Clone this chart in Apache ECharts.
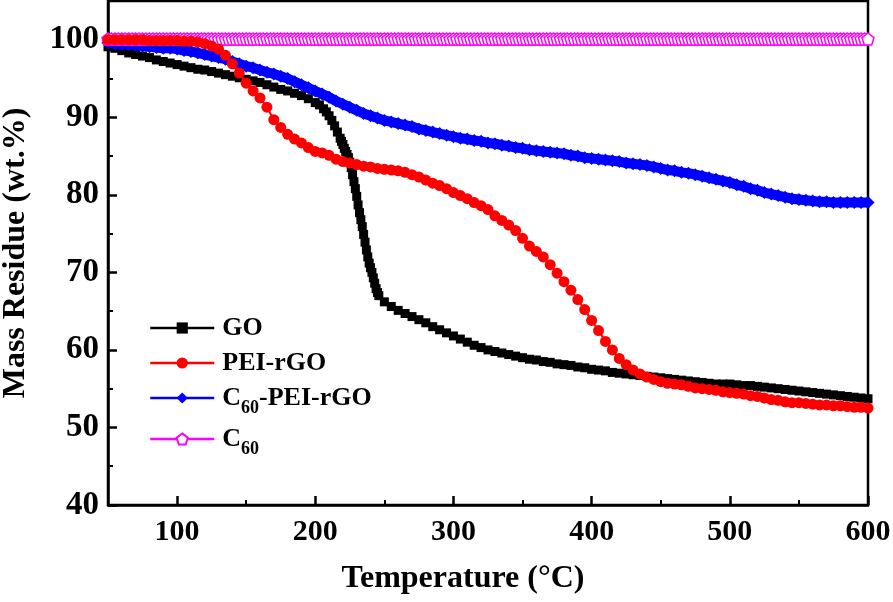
<!DOCTYPE html>
<html>
<head>
<meta charset="utf-8">
<script src="https://cdn.jsdelivr.net/npm/echarts@6/dist/echarts.min.js"></script>
<style>html,body{margin:0;padding:0;background:#fff;}#c{width:893px;height:602px;}</style>
</head>
<body>
<div id="c"></div>
<script>
// Temperature (°C), mass residue (wt.%)
var goData = [
[50,99.1],[55,98.9],[60,98.6],[65,98.3],[70,98.1],[75,97.9],[80,97.7],[85,97.4],[90,97.2],[95,97.0],
[100,96.8],[105,96.6],[110,96.4],[115,96.2],[120,96.1],[125,95.9],[130,95.7],[135,95.5],[140,95.3],[145,95.1],
[150,94.9],[155,94.7],[160,94.5],[165,94.2],[170,93.9],[175,93.6],[180,93.4],[185,93.1],[190,92.8],[195,92.4],
[200,91.9],[203,91.6],[206,91.1],[208,90.7],[210,90.2],[212,89.6],[214,88.9],[216,88.1],[218,87.3],[219,86.9],
[220,86.5],[221,86.0],[222,85.6],[223,85.2],[224,84.8],[225,84.2],[226,83.5],[227,82.6],[228,81.7],[229,80.8],
[230,79.8],[231,78.7],[232,77.7],[233,76.8],[234,75.9],[235,74.9],[236,73.9],[237,72.9],[238,72.0],[239,71.2],
[240,70.6],[241,70.0],[242,69.3],[243,68.6],[244,67.9],[245,67.4],[246,67.0],[250,66.2],[255,65.6],[260,65.1],
[265,64.7],[270,64.3],[275,63.9],[280,63.5],[285,63.0],[290,62.6],[295,62.2],[300,61.8],[305,61.4],[310,61.0],
[315,60.6],[320,60.3],[325,60.0],[330,59.8],[335,59.6],[340,59.4],[345,59.2],[350,59.0],[355,58.8],[360,58.7],
[365,58.5],[370,58.4],[375,58.2],[380,58.1],[385,58.0],[390,57.8],[395,57.7],[400,57.5],[405,57.4],[410,57.3],
[415,57.1],[420,57.0],[425,56.9],[430,56.8],[435,56.7],[440,56.6],[445,56.5],[450,56.4],[455,56.3],[460,56.2],
[465,56.1],[470,56.0],[475,55.9],[480,55.8],[485,55.7],[490,55.6],[495,55.6],[500,55.6],[505,55.5],[510,55.4],
[515,55.4],[520,55.3],[525,55.2],[530,55.1],[535,55.0],[540,54.9],[545,54.8],[550,54.7],[555,54.6],[560,54.5],
[565,54.4],[570,54.3],[575,54.2],[580,54.1],[585,54.0],[590,53.9],[595,53.8],[600,53.7]
];
var peiData = [
[50,100.0],[55,100.0],[60,100.0],[65,100.0],[70,100.0],[75,100.0],[80,99.9],[85,99.9],[90,99.9],[95,99.9],
[100,99.9],[105,99.8],[110,99.8],[115,99.7],[120,99.5],[125,99.2],[130,98.8],[135,98.0],[140,96.9],[145,95.7],
[150,94.4],[155,93.4],[160,92.5],[165,91.3],[170,89.7],[175,88.7],[180,87.8],[185,87.2],[190,86.7],[195,86.1],
[200,85.6],[205,85.4],[210,85.1],[215,84.6],[220,84.3],[225,84.1],[230,83.9],[235,83.7],[240,83.6],[245,83.4],
[250,83.3],[255,83.2],[260,83.1],[265,82.9],[270,82.6],[275,82.3],[280,81.9],[285,81.5],[290,81.2],[295,80.8],
[300,80.3],[305,79.9],[310,79.5],[315,79.0],[320,78.6],[325,78.1],[330,77.3],[335,76.7],[340,76.1],[345,75.4],
[350,74.4],[355,73.4],[360,72.7],[365,72.0],[370,71.0],[375,69.9],[380,68.8],[385,67.7],[390,66.5],[395,65.2],
[400,63.8],[405,62.5],[410,61.1],[415,60.0],[420,58.9],[425,58.1],[430,57.4],[435,56.9],[440,56.5],[445,56.2],
[450,55.9],[455,55.7],[460,55.6],[465,55.5],[470,55.3],[475,55.1],[480,55.0],[485,54.9],[490,54.8],[495,54.6],
[500,54.5],[505,54.4],[510,54.3],[515,54.1],[520,54.0],[525,53.8],[530,53.6],[535,53.5],[540,53.3],[545,53.2],
[550,53.2],[555,53.1],[560,53.0],[565,52.9],[570,52.9],[575,52.8],[580,52.8],[585,52.7],[590,52.6],[595,52.6],
[600,52.5]
];
var c60peiData = [
[50,99.6],[55,99.5],[60,99.4],[65,99.4],[70,99.3],[75,99.2],[80,99.1],[85,99.0],[90,98.9],[95,98.9],
[100,98.8],[105,98.6],[110,98.5],[115,98.3],[120,98.1],[125,97.9],[130,97.7],[135,97.5],[140,97.2],[145,96.9],
[150,96.6],[155,96.4],[160,96.1],[165,95.8],[170,95.6],[175,95.3],[180,95.0],[185,94.6],[190,94.2],[195,93.8],
[200,93.4],[205,93.0],[210,92.6],[215,92.1],[220,91.7],[225,91.3],[230,90.9],[235,90.5],[240,90.2],[245,89.9],
[250,89.6],[255,89.4],[260,89.2],[265,89.0],[270,88.8],[275,88.5],[280,88.3],[285,88.1],[290,87.9],[295,87.7],
[300,87.5],[305,87.3],[310,87.2],[315,87.0],[320,86.9],[325,86.7],[330,86.6],[335,86.4],[340,86.3],[345,86.1],
[350,86.0],[355,85.8],[360,85.7],[365,85.6],[370,85.5],[375,85.4],[380,85.3],[385,85.1],[390,85.0],[395,84.8],
[400,84.7],[405,84.6],[410,84.5],[415,84.4],[420,84.3],[425,84.1],[430,84.0],[435,83.9],[440,83.8],[445,83.6],
[450,83.4],[455,83.2],[460,83.1],[465,82.9],[470,82.8],[475,82.6],[480,82.4],[485,82.2],[490,82.0],[495,81.8],
[500,81.6],[505,81.3],[510,81.1],[515,80.8],[520,80.6],[525,80.3],[530,80.1],[535,79.9],[540,79.7],[545,79.5],
[550,79.4],[555,79.3],[560,79.2],[565,79.1],[570,79.1],[575,79.0],[580,79.0],[585,79.0],[590,79.0],[595,79.0],
[600,79.0]
];
var c60Data = [
[50,100.1],[52.5,100.1],[55,100.1],[57.5,100.1],[60,100.1],[62.5,100.1],[65,100.1],[67.5,100.1],[70,100.1],[72.5,100.1],
[75,100.1],[77.5,100.1],[80,100.1],[82.5,100.1],[85,100.1],[87.5,100.1],[90,100.1],[92.5,100.1],[95,100.1],[97.5,100.1],
[100,100.1],[102.5,100.1],[105,100.1],[107.5,100.1],[110,100.1],[112.5,100.1],[115,100.1],[117.5,100.1],[120,100.1],[122.5,100.1],
[125,100.1],[127.5,100.1],[130,100.1],[132.5,100.1],[135,100.1],[137.5,100.1],[140,100.1],[142.5,100.1],[145,100.1],[147.5,100.1],
[150,100.1],[152.5,100.1],[155,100.1],[157.5,100.1],[160,100.1],[162.5,100.1],[165,100.1],[167.5,100.1],[170,100.1],[172.5,100.1],
[175,100.1],[177.5,100.1],[180,100.1],[182.5,100.1],[185,100.1],[187.5,100.1],[190,100.1],[192.5,100.1],[195,100.1],[197.5,100.1],
[200,100.1],[202.5,100.1],[205,100.1],[207.5,100.1],[210,100.1],[212.5,100.1],[215,100.1],[217.5,100.1],[220,100.1],[222.5,100.1],
[225,100.1],[227.5,100.1],[230,100.1],[232.5,100.1],[235,100.1],[237.5,100.1],[240,100.1],[242.5,100.1],[245,100.1],[247.5,100.1],
[250,100.1],[252.5,100.1],[255,100.1],[257.5,100.1],[260,100.1],[262.5,100.1],[265,100.1],[267.5,100.1],[270,100.1],[272.5,100.1],
[275,100.1],[277.5,100.1],[280,100.1],[282.5,100.1],[285,100.1],[287.5,100.1],[290,100.1],[292.5,100.1],[295,100.1],[297.5,100.1],
[300,100.1],[302.5,100.1],[305,100.1],[307.5,100.1],[310,100.1],[312.5,100.1],[315,100.1],[317.5,100.1],[320,100.1],[322.5,100.1],
[325,100.1],[327.5,100.1],[330,100.1],[332.5,100.1],[335,100.1],[337.5,100.1],[340,100.1],[342.5,100.1],[345,100.1],[347.5,100.1],
[350,100.1],[352.5,100.1],[355,100.1],[357.5,100.1],[360,100.1],[362.5,100.1],[365,100.1],[367.5,100.1],[370,100.1],[372.5,100.1],
[375,100.1],[377.5,100.1],[380,100.1],[382.5,100.1],[385,100.1],[387.5,100.1],[390,100.1],[392.5,100.1],[395,100.1],[397.5,100.1],
[400,100.1],[402.5,100.1],[405,100.1],[407.5,100.1],[410,100.1],[412.5,100.1],[415,100.1],[417.5,100.1],[420,100.1],[422.5,100.1],
[425,100.1],[427.5,100.1],[430,100.1],[432.5,100.1],[435,100.1],[437.5,100.1],[440,100.1],[442.5,100.1],[445,100.1],[447.5,100.1],
[450,100.1],[452.5,100.1],[455,100.1],[457.5,100.1],[460,100.1],[462.5,100.1],[465,100.1],[467.5,100.1],[470,100.1],[472.5,100.1],
[475,100.1],[477.5,100.1],[480,100.1],[482.5,100.1],[485,100.1],[487.5,100.1],[490,100.1],[492.5,100.1],[495,100.1],[497.5,100.1],
[500,100.1],[502.5,100.1],[505,100.1],[507.5,100.1],[510,100.1],[512.5,100.1],[515,100.1],[517.5,100.1],[520,100.1],[522.5,100.1],
[525,100.1],[527.5,100.1],[530,100.1],[532.5,100.1],[535,100.1],[537.5,100.1],[540,100.1],[542.5,100.1],[545,100.1],[547.5,100.1],
[550,100.1],[552.5,100.1],[555,100.1],[557.5,100.1],[560,100.1],[562.5,100.1],[565,100.1],[567.5,100.1],[570,100.1],[572.5,100.1],
[575,100.1],[577.5,100.1],[580,100.1],[582.5,100.1],[585,100.1],[587.5,100.1],[590,100.1],[592.5,100.1],[595,100.1],[597.5,100.1],
[600,100.1]
];
var seriesNames = ['GO', 'PEI-rGO', 'C60-PEI-rGO', 'C60'];
var xMajorTicks = [100, 200, 300, 400, 500, 600];
var xMinorTicks = [150, 250, 350, 450, 550];
var yMajorTicks = [40, 50, 60, 70, 80, 90, 100];
var yMinorTicks = [45, 55, 65, 75, 85, 95];

var FONT = 'Liberation Serif, Times New Roman, serif';
var pentagon = 'path://M0,-1L0.951,-0.309L0.588,0.809L-0.588,0.809L-0.951,-0.309Z';

function legendFormatter(name) {
  if (name === 'C60-PEI-rGO') return 'C{sub|60}-PEI-rGO';
  if (name === 'C60') return 'C{sub|60}';
  return name;
}
function makeLegend(name, top) {
  return {
    data: [name], left: 149, top: top, orient: 'vertical', padding: 0, itemGap: 0,
    itemWidth: 64, itemHeight: 14, selectedMode: false,
    lineStyle: { width: 2.5 },
    formatter: legendFormatter,
    textStyle: {
      fontFamily: FONT, fontWeight: 'bold', fontSize: 26, color: '#000', lineHeight: 26,
      padding: [0, 0, 0, 3],
      rich: { sub: { fontFamily: FONT, fontWeight: 'bold', fontSize: 18, color: '#000', lineHeight: 18, padding: [20, 0, 0, 0] } }
    }
  };
}
var axisLineStyle = { color: '#000', width: 2.5 };

var chart = echarts.init(document.getElementById('c'), null, { renderer: 'canvas' });
chart.setOption({
  animation: false,
  backgroundColor: '#fff',
  grid: { left: 108, right: 25, top: 1, bottom: 97, show: true, borderColor: '#000', borderWidth: 2.5,
          containLabel: false, outerBoundsMode: 'none' },
  legend: [
    makeLegend('GO', 315),
    makeLegend('PEI-rGO', 350),
    makeLegend('C60-PEI-rGO', 379),
    makeLegend('C60', 420)
  ],
  xAxis: [{
    type: 'value', min: 50, max: 600, interval: 50, position: 'bottom',
    name: 'Temperature (°C)', nameLocation: 'middle', nameGap: 58,
    nameTextStyle: { fontFamily: FONT, fontWeight: 'bold', fontSize: 32, color: '#000', padding: [0, 50, 0, 0] },
    axisLine: { show: true, onZero: false, lineStyle: axisLineStyle },
    axisTick: { show: true, inside: true, length: 9, customValues: xMajorTicks, lineStyle: { color: '#000', width: 2.5 } },
    axisLabel: { show: true, margin: 12, customValues: xMajorTicks, fontFamily: FONT, fontWeight: 'bold', fontSize: 30, color: '#000',
      formatter: function (v) { return xMajorTicks.indexOf(v) >= 0 ? String(v) : ''; } },
    splitLine: { show: false }
  }, {
    type: 'value', min: 50, max: 600, interval: 50, position: 'bottom',
    axisLine: { show: false, onZero: false },
    axisTick: { show: true, inside: true, length: 5, customValues: xMinorTicks, lineStyle: { color: '#000', width: 2 } },
    axisLabel: { show: false },
    splitLine: { show: false }
  }],
  yAxis: [{
    type: 'value', min: 40, max: 105, interval: 5, position: 'left',
    name: 'Mass Residue (wt.%)', nameLocation: 'middle', nameGap: 76, nameRotate: 90,
    nameTextStyle: { fontFamily: FONT, fontWeight: 'bold', fontSize: 32, color: '#000' },
    axisLine: { show: true, onZero: false, lineStyle: axisLineStyle },
    axisTick: { show: true, inside: true, length: 9, customValues: yMajorTicks, lineStyle: { color: '#000', width: 2.5 } },
    axisLabel: { show: true, margin: 9, customValues: yMajorTicks, fontFamily: FONT, fontWeight: 'bold', fontSize: 33, color: '#000',
      formatter: function (v) { return yMajorTicks.indexOf(v) >= 0 ? String(v) : ''; } },
    splitLine: { show: false }
  }, {
    type: 'value', min: 40, max: 105, interval: 5, position: 'left',
    axisLine: { show: false, onZero: false },
    axisTick: { show: true, inside: true, length: 5, customValues: yMinorTicks, lineStyle: { color: '#000', width: 2 } },
    axisLabel: { show: false },
    splitLine: { show: false }
  }],
  series: [
    { name: seriesNames[0], type: 'line', data: goData, z: 2,
      symbol: 'rect', symbolSize: 9, showSymbol: true,
      itemStyle: { color: '#000000' }, lineStyle: { color: '#000000', width: 2 } },
    { name: seriesNames[2], type: 'line', data: c60peiData, z: 3,
      symbol: 'diamond', symbolSize: 13, showSymbol: true,
      itemStyle: { color: '#0000ff' }, lineStyle: { color: '#0000ff', width: 10 } },
    { name: seriesNames[3], type: 'line', data: c60Data, z: 4,
      symbol: pentagon, symbolSize: 12, showSymbol: true,
      itemStyle: { color: '#ffffff', borderColor: '#ff00ff', borderWidth: 1.5 }, lineStyle: { color: '#ff00ff', width: 1.5 } },
    { name: seriesNames[1], type: 'line', data: peiData, z: 5,
      symbol: 'circle', symbolSize: 11, showSymbol: true,
      itemStyle: { color: '#ff0000' }, lineStyle: { color: '#ff0000', width: 2 } }
  ]
});
</script>
</body>
</html>
